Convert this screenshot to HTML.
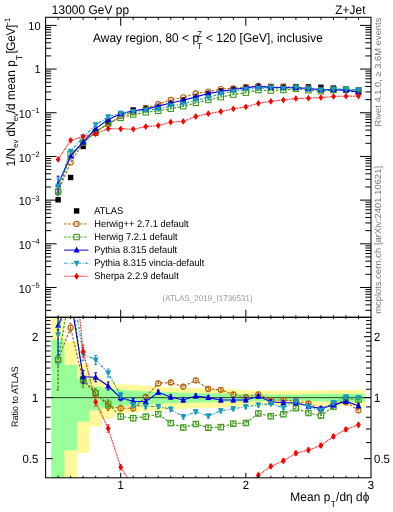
<!DOCTYPE html>
<html><head><meta charset="utf-8"><style>
html,body{margin:0;padding:0;background:#fff;}
body{width:393px;height:512px;position:relative;overflow:hidden;font-family:"Liberation Sans", sans-serif;color:#000;}
.t{position:absolute;white-space:nowrap;line-height:1;}
.rot{transform-origin:0 0;transform:rotate(-90deg);}
sup,sub{line-height:0;}
</style></head><body>
<svg width="393" height="512" viewBox="0 0 393 512" style="position:absolute;left:0;top:0;will-change:transform">
<defs><clipPath id="cm"><rect x="45.6" y="17.3" width="325.4" height="300"/></clipPath><clipPath id="cr"><rect x="45.6" y="317.3" width="325.4" height="160.5"/></clipPath></defs>
<g clip-path="url(#cr)">
<path d="M51.26 315.3 L64.37 315.3 L64.37 341.64 L76.89 341.64 L76.89 363.99 L89.4 363.99 L89.4 375.93 L101.92 375.93 L101.92 380.88 L114.43 380.88 L114.43 384.21 L126.95 384.21 L126.95 384.97 L139.46 384.97 L139.46 385.74 L151.98 385.74 L151.98 386.51 L164.49 386.51 L164.49 387.29 L177.01 387.29 L177.01 387.84 L189.52 387.84 L189.52 388.23 L202.04 388.23 L202.04 388.47 L214.55 388.47 L214.55 388.86 L227.07 388.86 L227.07 389.26 L239.58 389.26 L239.58 390.23 L252.1 390.23 L252.1 390.47 L264.61 390.47 L264.61 390.63 L277.13 390.63 L277.13 390.72 L289.64 390.72 L289.64 390.72 L302.16 390.72 L302.16 390.47 L314.67 390.47 L314.67 390.23 L327.19 390.23 L327.19 390.07 L339.7 390.07 L339.7 390.07 L352.22 390.07 L352.22 390.07 L364.73 390.07 L364.73 405.95 L352.22 405.95 L352.22 405.95 L339.7 405.95 L339.7 405.95 L327.19 405.95 L327.19 405.76 L314.67 405.76 L314.67 405.47 L302.16 405.47 L302.16 405.18 L289.64 405.18 L289.64 405.18 L277.13 405.18 L277.13 405.27 L264.61 405.27 L264.61 405.47 L252.1 405.47 L252.1 405.76 L239.58 405.76 L239.58 406.92 L227.07 406.92 L227.07 407.41 L214.55 407.41 L214.55 407.9 L202.04 407.9 L202.04 408.2 L189.52 408.2 L189.52 408.7 L177.01 408.7 L177.01 409.4 L164.49 409.4 L164.49 410.41 L151.98 410.41 L151.98 411.43 L139.46 411.43 L139.46 412.47 L126.95 412.47 L126.95 413.52 L114.43 413.52 L114.43 418.39 L101.92 418.39 L101.92 426.55 L89.4 426.55 L89.4 452.85 L76.89 452.85 L76.89 479.8 L64.37 479.8 L64.37 479.8 L51.26 479.8Z" fill="#fff999"/>
<path d="M51.26 339.8 L64.37 339.8 L64.37 364.96 L76.89 364.96 L76.89 378.72 L89.4 378.72 L89.4 386.51 L101.92 386.51 L101.92 388.31 L114.43 388.31 L114.43 389.66 L126.95 389.66 L126.95 390.47 L139.46 390.47 L139.46 391.29 L151.98 391.29 L151.98 391.86 L164.49 391.86 L164.49 392.36 L177.01 392.36 L177.01 392.86 L189.52 392.86 L189.52 393.11 L202.04 393.11 L202.04 393.36 L214.55 393.36 L214.55 393.52 L227.07 393.52 L227.07 393.78 L239.58 393.78 L239.58 394.03 L252.1 394.03 L252.1 394.37 L264.61 394.37 L264.61 394.54 L277.13 394.54 L277.13 394.62 L289.64 394.62 L289.64 394.62 L302.16 394.62 L302.16 394.37 L314.67 394.37 L314.67 394.03 L327.19 394.03 L327.19 393.78 L339.7 393.78 L339.7 393.78 L352.22 393.78 L352.22 393.78 L364.73 393.78 L364.73 401.7 L352.22 401.7 L352.22 401.7 L339.7 401.7 L339.7 401.7 L327.19 401.7 L327.19 401.43 L314.67 401.43 L314.67 401.06 L302.16 401.06 L302.16 400.78 L289.64 400.78 L289.64 400.78 L277.13 400.78 L277.13 400.88 L264.61 400.88 L264.61 401.06 L252.1 401.06 L252.1 401.43 L239.58 401.43 L239.58 401.7 L227.07 401.7 L227.07 401.98 L214.55 401.98 L214.55 402.16 L202.04 402.16 L202.04 402.44 L189.52 402.44 L189.52 402.72 L177.01 402.72 L177.01 403.28 L164.49 403.28 L164.49 403.85 L151.98 403.85 L151.98 404.51 L139.46 404.51 L139.46 405.47 L126.95 405.47 L126.95 406.43 L114.43 406.43 L114.43 408.1 L101.92 408.1 L101.92 410.41 L89.4 410.41 L89.4 421.8 L76.89 421.8 L76.89 450.25 L64.37 450.25 L64.37 479.8 L51.26 479.8Z" fill="#99ff99"/>
<line x1="45.6" y1="397.65" x2="371" y2="397.65" stroke="#000" stroke-opacity="0.72" stroke-width="1"/>
<path d="M58.11 359.6 L70.63 327.7 L83.14 381 L95.66 393 L108.18 406.5 L120.69 408.2 L133.21 408.3 L145.72 397 L158.24 383.4 L170.75 382.5 L183.27 386.6 L195.78 380.3 L208.29 389 L220.81 389.8 L233.33 394.5 L245.84 397.2 L258.36 394.3 L270.87 400 L283.38 400 L295.9 401 L308.42 403.5 L320.93 409 L333.45 403.5 L345.96 402.3 L358.48 410.3" fill="none" stroke="#b5600f" stroke-width="1.15" stroke-dasharray="2.4,1.6"/>
<path d="M58.11 329.6V389.6 M56.61 329.6h3 M56.61 389.6h3" fill="none" stroke="#b5600f" stroke-width="1" stroke-dasharray="2.4,1.6"/>
<path d="M70.63 323.2V332.2 M69.13 323.2h3 M69.13 332.2h3" fill="none" stroke="#b5600f" stroke-width="1" stroke-dasharray="2.4,1.6"/>
<path d="M83.14 374.6V387.4 M81.64 374.6h3 M81.64 387.4h3" fill="none" stroke="#b5600f" stroke-width="1" stroke-dasharray="2.4,1.6"/>
<path d="M95.66 388.5V397.5 M94.16 388.5h3 M94.16 397.5h3" fill="none" stroke="#b5600f" stroke-width="1" stroke-dasharray="2.4,1.6"/>
<path d="M108.18 402.5V410.5 M106.68 402.5h3 M106.68 410.5h3" fill="none" stroke="#b5600f" stroke-width="1" stroke-dasharray="2.4,1.6"/>
<path d="M120.69 405.2V411.2 M119.19 405.2h3 M119.19 411.2h3" fill="none" stroke="#b5600f" stroke-width="1" stroke-dasharray="2.4,1.6"/>
<path d="M133.21 405.7V410.9 M131.71 405.7h3 M131.71 410.9h3" fill="none" stroke="#b5600f" stroke-width="1" stroke-dasharray="2.4,1.6"/>
<path d="M145.72 394.6V399.4 M144.22 394.6h3 M144.22 399.4h3" fill="none" stroke="#b5600f" stroke-width="1" stroke-dasharray="2.4,1.6"/>
<path d="M158.24 381.2V385.6 M156.74 381.2h3 M156.74 385.6h3" fill="none" stroke="#b5600f" stroke-width="1" stroke-dasharray="2.4,1.6"/>
<path d="M170.75 380.3V384.7 M169.25 380.3h3 M169.25 384.7h3" fill="none" stroke="#b5600f" stroke-width="1" stroke-dasharray="2.4,1.6"/>
<path d="M183.27 384.4V388.8 M181.77 384.4h3 M181.77 388.8h3" fill="none" stroke="#b5600f" stroke-width="1" stroke-dasharray="2.4,1.6"/>
<path d="M195.78 378.3V382.3 M194.28 378.3h3 M194.28 382.3h3" fill="none" stroke="#b5600f" stroke-width="1" stroke-dasharray="2.4,1.6"/>
<path d="M208.29 387V391 M206.79 387h3 M206.79 391h3" fill="none" stroke="#b5600f" stroke-width="1" stroke-dasharray="2.4,1.6"/>
<path d="M220.81 387.8V391.8 M219.31 387.8h3 M219.31 391.8h3" fill="none" stroke="#b5600f" stroke-width="1" stroke-dasharray="2.4,1.6"/>
<path d="M233.33 392.5V396.5 M231.83 392.5h3 M231.83 396.5h3" fill="none" stroke="#b5600f" stroke-width="1" stroke-dasharray="2.4,1.6"/>
<path d="M245.84 395.2V399.2 M244.34 395.2h3 M244.34 399.2h3" fill="none" stroke="#b5600f" stroke-width="1" stroke-dasharray="2.4,1.6"/>
<path d="M258.36 392.3V396.3 M256.86 392.3h3 M256.86 396.3h3" fill="none" stroke="#b5600f" stroke-width="1" stroke-dasharray="2.4,1.6"/>
<path d="M270.87 398V402 M269.37 398h3 M269.37 402h3" fill="none" stroke="#b5600f" stroke-width="1" stroke-dasharray="2.4,1.6"/>
<path d="M283.38 398V402 M281.88 398h3 M281.88 402h3" fill="none" stroke="#b5600f" stroke-width="1" stroke-dasharray="2.4,1.6"/>
<path d="M295.9 399V403 M294.4 399h3 M294.4 403h3" fill="none" stroke="#b5600f" stroke-width="1" stroke-dasharray="2.4,1.6"/>
<path d="M308.42 401.5V405.5 M306.92 401.5h3 M306.92 405.5h3" fill="none" stroke="#b5600f" stroke-width="1" stroke-dasharray="2.4,1.6"/>
<path d="M320.93 407V411 M319.43 407h3 M319.43 411h3" fill="none" stroke="#b5600f" stroke-width="1" stroke-dasharray="2.4,1.6"/>
<path d="M333.45 401.5V405.5 M331.95 401.5h3 M331.95 405.5h3" fill="none" stroke="#b5600f" stroke-width="1" stroke-dasharray="2.4,1.6"/>
<path d="M345.96 400.3V404.3 M344.46 400.3h3 M344.46 404.3h3" fill="none" stroke="#b5600f" stroke-width="1" stroke-dasharray="2.4,1.6"/>
<path d="M358.48 408.3V412.3 M356.98 408.3h3 M356.98 412.3h3" fill="none" stroke="#b5600f" stroke-width="1" stroke-dasharray="2.4,1.6"/>
<circle cx="58.11" cy="359.6" r="2.6" fill="none" stroke="#b5600f" stroke-width="1.1"/>
<circle cx="70.63" cy="327.7" r="2.6" fill="none" stroke="#b5600f" stroke-width="1.1"/>
<circle cx="83.14" cy="381" r="2.6" fill="none" stroke="#b5600f" stroke-width="1.1"/>
<circle cx="95.66" cy="393" r="2.6" fill="none" stroke="#b5600f" stroke-width="1.1"/>
<circle cx="108.18" cy="406.5" r="2.6" fill="none" stroke="#b5600f" stroke-width="1.1"/>
<circle cx="120.69" cy="408.2" r="2.6" fill="none" stroke="#b5600f" stroke-width="1.1"/>
<circle cx="133.21" cy="408.3" r="2.6" fill="none" stroke="#b5600f" stroke-width="1.1"/>
<circle cx="145.72" cy="397" r="2.6" fill="none" stroke="#b5600f" stroke-width="1.1"/>
<circle cx="158.24" cy="383.4" r="2.6" fill="none" stroke="#b5600f" stroke-width="1.1"/>
<circle cx="170.75" cy="382.5" r="2.6" fill="none" stroke="#b5600f" stroke-width="1.1"/>
<circle cx="183.27" cy="386.6" r="2.6" fill="none" stroke="#b5600f" stroke-width="1.1"/>
<circle cx="195.78" cy="380.3" r="2.6" fill="none" stroke="#b5600f" stroke-width="1.1"/>
<circle cx="208.29" cy="389" r="2.6" fill="none" stroke="#b5600f" stroke-width="1.1"/>
<circle cx="220.81" cy="389.8" r="2.6" fill="none" stroke="#b5600f" stroke-width="1.1"/>
<circle cx="233.33" cy="394.5" r="2.6" fill="none" stroke="#b5600f" stroke-width="1.1"/>
<circle cx="245.84" cy="397.2" r="2.6" fill="none" stroke="#b5600f" stroke-width="1.1"/>
<circle cx="258.36" cy="394.3" r="2.6" fill="none" stroke="#b5600f" stroke-width="1.1"/>
<circle cx="270.87" cy="400" r="2.6" fill="none" stroke="#b5600f" stroke-width="1.1"/>
<circle cx="283.38" cy="400" r="2.6" fill="none" stroke="#b5600f" stroke-width="1.1"/>
<circle cx="295.9" cy="401" r="2.6" fill="none" stroke="#b5600f" stroke-width="1.1"/>
<circle cx="308.42" cy="403.5" r="2.6" fill="none" stroke="#b5600f" stroke-width="1.1"/>
<circle cx="320.93" cy="409" r="2.6" fill="none" stroke="#b5600f" stroke-width="1.1"/>
<circle cx="333.45" cy="403.5" r="2.6" fill="none" stroke="#b5600f" stroke-width="1.1"/>
<circle cx="345.96" cy="402.3" r="2.6" fill="none" stroke="#b5600f" stroke-width="1.1"/>
<circle cx="358.48" cy="410.3" r="2.6" fill="none" stroke="#b5600f" stroke-width="1.1"/>
<path d="M58.11 359.9 L70.63 288.65 L83.14 379 L95.66 393.2 L108.18 403.9 L120.69 416.6 L133.21 418.1 L145.72 416.7 L158.24 414.2 L170.75 423.1 L183.27 427.5 L195.78 424 L208.29 427.7 L220.81 427.1 L233.33 423.7 L245.84 423 L258.36 413.5 L270.87 416.3 L283.38 414.3 L295.9 408.2 L308.42 413 L320.93 415.6 L333.45 406.7 L345.96 398.5 L358.48 399.6" fill="none" stroke="#3e9a18" stroke-width="1.15" stroke-dasharray="2.4,1.6"/>
<path d="M58.11 329.9V389.9 M56.61 329.9h3 M56.61 389.9h3" fill="none" stroke="#3e9a18" stroke-width="1" stroke-dasharray="2.4,1.6"/>
<path d="M83.14 372.6V385.4 M81.64 372.6h3 M81.64 385.4h3" fill="none" stroke="#3e9a18" stroke-width="1" stroke-dasharray="2.4,1.6"/>
<path d="M95.66 388.7V397.7 M94.16 388.7h3 M94.16 397.7h3" fill="none" stroke="#3e9a18" stroke-width="1" stroke-dasharray="2.4,1.6"/>
<path d="M108.18 399.9V407.9 M106.68 399.9h3 M106.68 407.9h3" fill="none" stroke="#3e9a18" stroke-width="1" stroke-dasharray="2.4,1.6"/>
<path d="M120.69 413.6V419.6 M119.19 413.6h3 M119.19 419.6h3" fill="none" stroke="#3e9a18" stroke-width="1" stroke-dasharray="2.4,1.6"/>
<path d="M133.21 415.5V420.7 M131.71 415.5h3 M131.71 420.7h3" fill="none" stroke="#3e9a18" stroke-width="1" stroke-dasharray="2.4,1.6"/>
<path d="M145.72 414.3V419.1 M144.22 414.3h3 M144.22 419.1h3" fill="none" stroke="#3e9a18" stroke-width="1" stroke-dasharray="2.4,1.6"/>
<path d="M158.24 412V416.4 M156.74 412h3 M156.74 416.4h3" fill="none" stroke="#3e9a18" stroke-width="1" stroke-dasharray="2.4,1.6"/>
<path d="M170.75 420.9V425.3 M169.25 420.9h3 M169.25 425.3h3" fill="none" stroke="#3e9a18" stroke-width="1" stroke-dasharray="2.4,1.6"/>
<path d="M183.27 425.3V429.7 M181.77 425.3h3 M181.77 429.7h3" fill="none" stroke="#3e9a18" stroke-width="1" stroke-dasharray="2.4,1.6"/>
<path d="M195.78 422V426 M194.28 422h3 M194.28 426h3" fill="none" stroke="#3e9a18" stroke-width="1" stroke-dasharray="2.4,1.6"/>
<path d="M208.29 425.7V429.7 M206.79 425.7h3 M206.79 429.7h3" fill="none" stroke="#3e9a18" stroke-width="1" stroke-dasharray="2.4,1.6"/>
<path d="M220.81 425.1V429.1 M219.31 425.1h3 M219.31 429.1h3" fill="none" stroke="#3e9a18" stroke-width="1" stroke-dasharray="2.4,1.6"/>
<path d="M233.33 421.7V425.7 M231.83 421.7h3 M231.83 425.7h3" fill="none" stroke="#3e9a18" stroke-width="1" stroke-dasharray="2.4,1.6"/>
<path d="M245.84 421V425 M244.34 421h3 M244.34 425h3" fill="none" stroke="#3e9a18" stroke-width="1" stroke-dasharray="2.4,1.6"/>
<path d="M258.36 411.5V415.5 M256.86 411.5h3 M256.86 415.5h3" fill="none" stroke="#3e9a18" stroke-width="1" stroke-dasharray="2.4,1.6"/>
<path d="M270.87 414.3V418.3 M269.37 414.3h3 M269.37 418.3h3" fill="none" stroke="#3e9a18" stroke-width="1" stroke-dasharray="2.4,1.6"/>
<path d="M283.38 412.3V416.3 M281.88 412.3h3 M281.88 416.3h3" fill="none" stroke="#3e9a18" stroke-width="1" stroke-dasharray="2.4,1.6"/>
<path d="M295.9 406.2V410.2 M294.4 406.2h3 M294.4 410.2h3" fill="none" stroke="#3e9a18" stroke-width="1" stroke-dasharray="2.4,1.6"/>
<path d="M308.42 411V415 M306.92 411h3 M306.92 415h3" fill="none" stroke="#3e9a18" stroke-width="1" stroke-dasharray="2.4,1.6"/>
<path d="M320.93 413.6V417.6 M319.43 413.6h3 M319.43 417.6h3" fill="none" stroke="#3e9a18" stroke-width="1" stroke-dasharray="2.4,1.6"/>
<path d="M333.45 404.7V408.7 M331.95 404.7h3 M331.95 408.7h3" fill="none" stroke="#3e9a18" stroke-width="1" stroke-dasharray="2.4,1.6"/>
<path d="M345.96 396.5V400.5 M344.46 396.5h3 M344.46 400.5h3" fill="none" stroke="#3e9a18" stroke-width="1" stroke-dasharray="2.4,1.6"/>
<path d="M358.48 397.6V401.6 M356.98 397.6h3 M356.98 401.6h3" fill="none" stroke="#3e9a18" stroke-width="1" stroke-dasharray="2.4,1.6"/>
<rect x="55.41" y="357.2" width="5.4" height="5.4" fill="none" stroke="#3e9a18" stroke-width="1.1"/>
<rect x="80.44" y="376.3" width="5.4" height="5.4" fill="none" stroke="#3e9a18" stroke-width="1.1"/>
<rect x="92.96" y="390.5" width="5.4" height="5.4" fill="none" stroke="#3e9a18" stroke-width="1.1"/>
<rect x="105.48" y="401.2" width="5.4" height="5.4" fill="none" stroke="#3e9a18" stroke-width="1.1"/>
<rect x="117.99" y="413.9" width="5.4" height="5.4" fill="none" stroke="#3e9a18" stroke-width="1.1"/>
<rect x="130.51" y="415.4" width="5.4" height="5.4" fill="none" stroke="#3e9a18" stroke-width="1.1"/>
<rect x="143.02" y="414" width="5.4" height="5.4" fill="none" stroke="#3e9a18" stroke-width="1.1"/>
<rect x="155.54" y="411.5" width="5.4" height="5.4" fill="none" stroke="#3e9a18" stroke-width="1.1"/>
<rect x="168.05" y="420.4" width="5.4" height="5.4" fill="none" stroke="#3e9a18" stroke-width="1.1"/>
<rect x="180.57" y="424.8" width="5.4" height="5.4" fill="none" stroke="#3e9a18" stroke-width="1.1"/>
<rect x="193.08" y="421.3" width="5.4" height="5.4" fill="none" stroke="#3e9a18" stroke-width="1.1"/>
<rect x="205.59" y="425" width="5.4" height="5.4" fill="none" stroke="#3e9a18" stroke-width="1.1"/>
<rect x="218.11" y="424.4" width="5.4" height="5.4" fill="none" stroke="#3e9a18" stroke-width="1.1"/>
<rect x="230.63" y="421" width="5.4" height="5.4" fill="none" stroke="#3e9a18" stroke-width="1.1"/>
<rect x="243.14" y="420.3" width="5.4" height="5.4" fill="none" stroke="#3e9a18" stroke-width="1.1"/>
<rect x="255.66" y="410.8" width="5.4" height="5.4" fill="none" stroke="#3e9a18" stroke-width="1.1"/>
<rect x="268.17" y="413.6" width="5.4" height="5.4" fill="none" stroke="#3e9a18" stroke-width="1.1"/>
<rect x="280.69" y="411.6" width="5.4" height="5.4" fill="none" stroke="#3e9a18" stroke-width="1.1"/>
<rect x="293.2" y="405.5" width="5.4" height="5.4" fill="none" stroke="#3e9a18" stroke-width="1.1"/>
<rect x="305.72" y="410.3" width="5.4" height="5.4" fill="none" stroke="#3e9a18" stroke-width="1.1"/>
<rect x="318.23" y="412.9" width="5.4" height="5.4" fill="none" stroke="#3e9a18" stroke-width="1.1"/>
<rect x="330.75" y="404" width="5.4" height="5.4" fill="none" stroke="#3e9a18" stroke-width="1.1"/>
<rect x="343.26" y="395.8" width="5.4" height="5.4" fill="none" stroke="#3e9a18" stroke-width="1.1"/>
<rect x="355.78" y="396.9" width="5.4" height="5.4" fill="none" stroke="#3e9a18" stroke-width="1.1"/>
<path d="M58.11 325.2 L70.63 297.93 L83.14 376.8 L95.66 377.3 L108.18 386 L120.69 397.8 L133.21 401.2 L145.72 401.7 L158.24 392.3 L170.75 397 L183.27 400 L195.78 396 L208.29 397.6 L220.81 400 L233.33 400 L245.84 400 L258.36 396.3 L270.87 401.7 L283.38 402.7 L295.9 402.7 L308.42 406.2 L320.93 408.6 L333.45 404.9 L345.96 401.4 L358.48 405.8" fill="none" stroke="#0000e6" stroke-width="1.15"/>
<path d="M58.11 295.2V355.2 M56.61 295.2h3 M56.61 355.2h3" fill="none" stroke="#0000e6" stroke-width="1"/>
<path d="M83.14 370.4V383.2 M81.64 370.4h3 M81.64 383.2h3" fill="none" stroke="#0000e6" stroke-width="1"/>
<path d="M95.66 372.8V381.8 M94.16 372.8h3 M94.16 381.8h3" fill="none" stroke="#0000e6" stroke-width="1"/>
<path d="M108.18 382V390 M106.68 382h3 M106.68 390h3" fill="none" stroke="#0000e6" stroke-width="1"/>
<path d="M120.69 394.8V400.8 M119.19 394.8h3 M119.19 400.8h3" fill="none" stroke="#0000e6" stroke-width="1"/>
<path d="M133.21 398.6V403.8 M131.71 398.6h3 M131.71 403.8h3" fill="none" stroke="#0000e6" stroke-width="1"/>
<path d="M145.72 399.3V404.1 M144.22 399.3h3 M144.22 404.1h3" fill="none" stroke="#0000e6" stroke-width="1"/>
<path d="M158.24 390.1V394.5 M156.74 390.1h3 M156.74 394.5h3" fill="none" stroke="#0000e6" stroke-width="1"/>
<path d="M170.75 394.8V399.2 M169.25 394.8h3 M169.25 399.2h3" fill="none" stroke="#0000e6" stroke-width="1"/>
<path d="M183.27 397.8V402.2 M181.77 397.8h3 M181.77 402.2h3" fill="none" stroke="#0000e6" stroke-width="1"/>
<path d="M195.78 394V398 M194.28 394h3 M194.28 398h3" fill="none" stroke="#0000e6" stroke-width="1"/>
<path d="M208.29 395.6V399.6 M206.79 395.6h3 M206.79 399.6h3" fill="none" stroke="#0000e6" stroke-width="1"/>
<path d="M220.81 398V402 M219.31 398h3 M219.31 402h3" fill="none" stroke="#0000e6" stroke-width="1"/>
<path d="M233.33 398V402 M231.83 398h3 M231.83 402h3" fill="none" stroke="#0000e6" stroke-width="1"/>
<path d="M245.84 398V402 M244.34 398h3 M244.34 402h3" fill="none" stroke="#0000e6" stroke-width="1"/>
<path d="M258.36 394.3V398.3 M256.86 394.3h3 M256.86 398.3h3" fill="none" stroke="#0000e6" stroke-width="1"/>
<path d="M270.87 399.7V403.7 M269.37 399.7h3 M269.37 403.7h3" fill="none" stroke="#0000e6" stroke-width="1"/>
<path d="M283.38 400.7V404.7 M281.88 400.7h3 M281.88 404.7h3" fill="none" stroke="#0000e6" stroke-width="1"/>
<path d="M295.9 400.7V404.7 M294.4 400.7h3 M294.4 404.7h3" fill="none" stroke="#0000e6" stroke-width="1"/>
<path d="M308.42 404.2V408.2 M306.92 404.2h3 M306.92 408.2h3" fill="none" stroke="#0000e6" stroke-width="1"/>
<path d="M320.93 406.6V410.6 M319.43 406.6h3 M319.43 410.6h3" fill="none" stroke="#0000e6" stroke-width="1"/>
<path d="M333.45 402.9V406.9 M331.95 402.9h3 M331.95 406.9h3" fill="none" stroke="#0000e6" stroke-width="1"/>
<path d="M345.96 399.4V403.4 M344.46 399.4h3 M344.46 403.4h3" fill="none" stroke="#0000e6" stroke-width="1"/>
<path d="M358.48 403.8V407.8 M356.98 403.8h3 M356.98 407.8h3" fill="none" stroke="#0000e6" stroke-width="1"/>
<path d="M58.11 321.7L61.11 327.7L55.11 327.7Z" fill="#0000e6"/>
<path d="M83.14 373.3L86.14 379.3L80.14 379.3Z" fill="#0000e6"/>
<path d="M95.66 373.8L98.66 379.8L92.66 379.8Z" fill="#0000e6"/>
<path d="M108.18 382.5L111.18 388.5L105.18 388.5Z" fill="#0000e6"/>
<path d="M120.69 394.3L123.69 400.3L117.69 400.3Z" fill="#0000e6"/>
<path d="M133.21 397.7L136.21 403.7L130.21 403.7Z" fill="#0000e6"/>
<path d="M145.72 398.2L148.72 404.2L142.72 404.2Z" fill="#0000e6"/>
<path d="M158.24 388.8L161.24 394.8L155.24 394.8Z" fill="#0000e6"/>
<path d="M170.75 393.5L173.75 399.5L167.75 399.5Z" fill="#0000e6"/>
<path d="M183.27 396.5L186.27 402.5L180.27 402.5Z" fill="#0000e6"/>
<path d="M195.78 392.5L198.78 398.5L192.78 398.5Z" fill="#0000e6"/>
<path d="M208.29 394.1L211.29 400.1L205.29 400.1Z" fill="#0000e6"/>
<path d="M220.81 396.5L223.81 402.5L217.81 402.5Z" fill="#0000e6"/>
<path d="M233.33 396.5L236.33 402.5L230.33 402.5Z" fill="#0000e6"/>
<path d="M245.84 396.5L248.84 402.5L242.84 402.5Z" fill="#0000e6"/>
<path d="M258.36 392.8L261.36 398.8L255.36 398.8Z" fill="#0000e6"/>
<path d="M270.87 398.2L273.87 404.2L267.87 404.2Z" fill="#0000e6"/>
<path d="M283.38 399.2L286.38 405.2L280.38 405.2Z" fill="#0000e6"/>
<path d="M295.9 399.2L298.9 405.2L292.9 405.2Z" fill="#0000e6"/>
<path d="M308.42 402.7L311.42 408.7L305.42 408.7Z" fill="#0000e6"/>
<path d="M320.93 405.1L323.93 411.1L317.93 411.1Z" fill="#0000e6"/>
<path d="M333.45 401.4L336.45 407.4L330.45 407.4Z" fill="#0000e6"/>
<path d="M345.96 397.9L348.96 403.9L342.96 403.9Z" fill="#0000e6"/>
<path d="M358.48 402.3L361.48 408.3L355.48 408.3Z" fill="#0000e6"/>
<path d="M58.11 334.8 L70.63 275.66 L83.14 354 L95.66 359.9 L108.18 373.1 L120.69 395.3 L133.21 405 L145.72 406.5 L158.24 406.5 L170.75 409.2 L183.27 416.8 L195.78 411.8 L208.29 416 L220.81 410.8 L233.33 408.8 L245.84 406.8 L258.36 405 L270.87 403.7 L283.38 407.8 L295.9 401.2 L308.42 406.7 L320.93 410.3 L333.45 402.8 L345.96 396.9 L358.48 397.8" fill="none" stroke="#1899c2" stroke-width="1.15" stroke-dasharray="3,1.5,1,1.5"/>
<path d="M58.11 304.8V364.8 M56.61 304.8h3 M56.61 364.8h3" fill="none" stroke="#1899c2" stroke-width="1" stroke-dasharray="3,1.5,1,1.5"/>
<path d="M83.14 347.6V360.4 M81.64 347.6h3 M81.64 360.4h3" fill="none" stroke="#1899c2" stroke-width="1" stroke-dasharray="3,1.5,1,1.5"/>
<path d="M95.66 355.4V364.4 M94.16 355.4h3 M94.16 364.4h3" fill="none" stroke="#1899c2" stroke-width="1" stroke-dasharray="3,1.5,1,1.5"/>
<path d="M108.18 369.1V377.1 M106.68 369.1h3 M106.68 377.1h3" fill="none" stroke="#1899c2" stroke-width="1" stroke-dasharray="3,1.5,1,1.5"/>
<path d="M120.69 392.3V398.3 M119.19 392.3h3 M119.19 398.3h3" fill="none" stroke="#1899c2" stroke-width="1" stroke-dasharray="3,1.5,1,1.5"/>
<path d="M133.21 402.4V407.6 M131.71 402.4h3 M131.71 407.6h3" fill="none" stroke="#1899c2" stroke-width="1" stroke-dasharray="3,1.5,1,1.5"/>
<path d="M145.72 404.1V408.9 M144.22 404.1h3 M144.22 408.9h3" fill="none" stroke="#1899c2" stroke-width="1" stroke-dasharray="3,1.5,1,1.5"/>
<path d="M158.24 404.3V408.7 M156.74 404.3h3 M156.74 408.7h3" fill="none" stroke="#1899c2" stroke-width="1" stroke-dasharray="3,1.5,1,1.5"/>
<path d="M170.75 407V411.4 M169.25 407h3 M169.25 411.4h3" fill="none" stroke="#1899c2" stroke-width="1" stroke-dasharray="3,1.5,1,1.5"/>
<path d="M183.27 414.6V419 M181.77 414.6h3 M181.77 419h3" fill="none" stroke="#1899c2" stroke-width="1" stroke-dasharray="3,1.5,1,1.5"/>
<path d="M195.78 409.8V413.8 M194.28 409.8h3 M194.28 413.8h3" fill="none" stroke="#1899c2" stroke-width="1" stroke-dasharray="3,1.5,1,1.5"/>
<path d="M208.29 414V418 M206.79 414h3 M206.79 418h3" fill="none" stroke="#1899c2" stroke-width="1" stroke-dasharray="3,1.5,1,1.5"/>
<path d="M220.81 408.8V412.8 M219.31 408.8h3 M219.31 412.8h3" fill="none" stroke="#1899c2" stroke-width="1" stroke-dasharray="3,1.5,1,1.5"/>
<path d="M233.33 406.8V410.8 M231.83 406.8h3 M231.83 410.8h3" fill="none" stroke="#1899c2" stroke-width="1" stroke-dasharray="3,1.5,1,1.5"/>
<path d="M245.84 404.8V408.8 M244.34 404.8h3 M244.34 408.8h3" fill="none" stroke="#1899c2" stroke-width="1" stroke-dasharray="3,1.5,1,1.5"/>
<path d="M258.36 403V407 M256.86 403h3 M256.86 407h3" fill="none" stroke="#1899c2" stroke-width="1" stroke-dasharray="3,1.5,1,1.5"/>
<path d="M270.87 401.7V405.7 M269.37 401.7h3 M269.37 405.7h3" fill="none" stroke="#1899c2" stroke-width="1" stroke-dasharray="3,1.5,1,1.5"/>
<path d="M283.38 405.8V409.8 M281.88 405.8h3 M281.88 409.8h3" fill="none" stroke="#1899c2" stroke-width="1" stroke-dasharray="3,1.5,1,1.5"/>
<path d="M295.9 399.2V403.2 M294.4 399.2h3 M294.4 403.2h3" fill="none" stroke="#1899c2" stroke-width="1" stroke-dasharray="3,1.5,1,1.5"/>
<path d="M308.42 404.7V408.7 M306.92 404.7h3 M306.92 408.7h3" fill="none" stroke="#1899c2" stroke-width="1" stroke-dasharray="3,1.5,1,1.5"/>
<path d="M320.93 408.3V412.3 M319.43 408.3h3 M319.43 412.3h3" fill="none" stroke="#1899c2" stroke-width="1" stroke-dasharray="3,1.5,1,1.5"/>
<path d="M333.45 400.8V404.8 M331.95 400.8h3 M331.95 404.8h3" fill="none" stroke="#1899c2" stroke-width="1" stroke-dasharray="3,1.5,1,1.5"/>
<path d="M345.96 394.9V398.9 M344.46 394.9h3 M344.46 398.9h3" fill="none" stroke="#1899c2" stroke-width="1" stroke-dasharray="3,1.5,1,1.5"/>
<path d="M358.48 395.8V399.8 M356.98 395.8h3 M356.98 399.8h3" fill="none" stroke="#1899c2" stroke-width="1" stroke-dasharray="3,1.5,1,1.5"/>
<path d="M58.11 338.3L61.11 332.3L55.11 332.3Z" fill="#1899c2"/>
<path d="M83.14 357.5L86.14 351.5L80.14 351.5Z" fill="#1899c2"/>
<path d="M95.66 363.4L98.66 357.4L92.66 357.4Z" fill="#1899c2"/>
<path d="M108.18 376.6L111.18 370.6L105.18 370.6Z" fill="#1899c2"/>
<path d="M120.69 398.8L123.69 392.8L117.69 392.8Z" fill="#1899c2"/>
<path d="M133.21 408.5L136.21 402.5L130.21 402.5Z" fill="#1899c2"/>
<path d="M145.72 410L148.72 404L142.72 404Z" fill="#1899c2"/>
<path d="M158.24 410L161.24 404L155.24 404Z" fill="#1899c2"/>
<path d="M170.75 412.7L173.75 406.7L167.75 406.7Z" fill="#1899c2"/>
<path d="M183.27 420.3L186.27 414.3L180.27 414.3Z" fill="#1899c2"/>
<path d="M195.78 415.3L198.78 409.3L192.78 409.3Z" fill="#1899c2"/>
<path d="M208.29 419.5L211.29 413.5L205.29 413.5Z" fill="#1899c2"/>
<path d="M220.81 414.3L223.81 408.3L217.81 408.3Z" fill="#1899c2"/>
<path d="M233.33 412.3L236.33 406.3L230.33 406.3Z" fill="#1899c2"/>
<path d="M245.84 410.3L248.84 404.3L242.84 404.3Z" fill="#1899c2"/>
<path d="M258.36 408.5L261.36 402.5L255.36 402.5Z" fill="#1899c2"/>
<path d="M270.87 407.2L273.87 401.2L267.87 401.2Z" fill="#1899c2"/>
<path d="M283.38 411.3L286.38 405.3L280.38 405.3Z" fill="#1899c2"/>
<path d="M295.9 404.7L298.9 398.7L292.9 398.7Z" fill="#1899c2"/>
<path d="M308.42 410.2L311.42 404.2L305.42 404.2Z" fill="#1899c2"/>
<path d="M320.93 413.8L323.93 407.8L317.93 407.8Z" fill="#1899c2"/>
<path d="M333.45 406.3L336.45 400.3L330.45 400.3Z" fill="#1899c2"/>
<path d="M345.96 400.4L348.96 394.4L342.96 394.4Z" fill="#1899c2"/>
<path d="M358.48 401.3L361.48 395.3L355.48 395.3Z" fill="#1899c2"/>
<path d="M58.11 210.26 L70.63 225.11 L83.14 351.5 L95.66 401.9 L108.18 428.5 L120.69 467.2 L133.21 486.7 L145.72 482.99 L158.24 482.53 L170.75 485.31 L183.27 497.84 L195.78 487.17 L208.29 491.34 L220.81 493.66 L233.33 489.49 L245.84 488.56 L258.36 475.2 L270.87 466.3 L283.38 460.8 L295.9 453.2 L308.42 450.1 L320.93 445.5 L333.45 436.4 L345.96 429.4 L358.48 424.8" fill="none" stroke="#ff0000" stroke-width="1.15" stroke-dasharray="0.9,0.7"/>
<path d="M83.14 345.1V357.9 M81.64 345.1h3 M81.64 357.9h3" fill="none" stroke="#ff0000" stroke-width="1" stroke-dasharray="0.9,0.7"/>
<path d="M95.66 397.4V406.4 M94.16 397.4h3 M94.16 406.4h3" fill="none" stroke="#ff0000" stroke-width="1" stroke-dasharray="0.9,0.7"/>
<path d="M108.18 424.5V432.5 M106.68 424.5h3 M106.68 432.5h3" fill="none" stroke="#ff0000" stroke-width="1" stroke-dasharray="0.9,0.7"/>
<path d="M120.69 464.2V470.2 M119.19 464.2h3 M119.19 470.2h3" fill="none" stroke="#ff0000" stroke-width="1" stroke-dasharray="0.9,0.7"/>
<path d="M258.36 473.2V477.2 M256.86 473.2h3 M256.86 477.2h3" fill="none" stroke="#ff0000" stroke-width="1" stroke-dasharray="0.9,0.7"/>
<path d="M270.87 464.3V468.3 M269.37 464.3h3 M269.37 468.3h3" fill="none" stroke="#ff0000" stroke-width="1" stroke-dasharray="0.9,0.7"/>
<path d="M283.38 458.8V462.8 M281.88 458.8h3 M281.88 462.8h3" fill="none" stroke="#ff0000" stroke-width="1" stroke-dasharray="0.9,0.7"/>
<path d="M295.9 451.2V455.2 M294.4 451.2h3 M294.4 455.2h3" fill="none" stroke="#ff0000" stroke-width="1" stroke-dasharray="0.9,0.7"/>
<path d="M308.42 448.1V452.1 M306.92 448.1h3 M306.92 452.1h3" fill="none" stroke="#ff0000" stroke-width="1" stroke-dasharray="0.9,0.7"/>
<path d="M320.93 443.5V447.5 M319.43 443.5h3 M319.43 447.5h3" fill="none" stroke="#ff0000" stroke-width="1" stroke-dasharray="0.9,0.7"/>
<path d="M333.45 434.4V438.4 M331.95 434.4h3 M331.95 438.4h3" fill="none" stroke="#ff0000" stroke-width="1" stroke-dasharray="0.9,0.7"/>
<path d="M345.96 427.4V431.4 M344.46 427.4h3 M344.46 431.4h3" fill="none" stroke="#ff0000" stroke-width="1" stroke-dasharray="0.9,0.7"/>
<path d="M358.48 422.8V426.8 M356.98 422.8h3 M356.98 426.8h3" fill="none" stroke="#ff0000" stroke-width="1" stroke-dasharray="0.9,0.7"/>
<path d="M83.14 348.1L85.55 351.5L83.14 354.9L80.74 351.5Z" fill="#ff0000"/>
<path d="M95.66 398.5L98.06 401.9L95.66 405.3L93.26 401.9Z" fill="#ff0000"/>
<path d="M108.18 425.1L110.58 428.5L108.18 431.9L105.78 428.5Z" fill="#ff0000"/>
<path d="M120.69 463.8L123.09 467.2L120.69 470.6L118.29 467.2Z" fill="#ff0000"/>
<path d="M258.36 471.8L260.75 475.2L258.36 478.6L255.96 475.2Z" fill="#ff0000"/>
<path d="M270.87 462.9L273.27 466.3L270.87 469.7L268.47 466.3Z" fill="#ff0000"/>
<path d="M283.38 457.4L285.78 460.8L283.38 464.2L280.99 460.8Z" fill="#ff0000"/>
<path d="M295.9 449.8L298.3 453.2L295.9 456.6L293.5 453.2Z" fill="#ff0000"/>
<path d="M308.42 446.7L310.81 450.1L308.42 453.5L306.02 450.1Z" fill="#ff0000"/>
<path d="M320.93 442.1L323.33 445.5L320.93 448.9L318.53 445.5Z" fill="#ff0000"/>
<path d="M333.45 433L335.85 436.4L333.45 439.8L331.05 436.4Z" fill="#ff0000"/>
<path d="M345.96 426L348.36 429.4L345.96 432.8L343.56 429.4Z" fill="#ff0000"/>
<path d="M358.48 421.4L360.88 424.8L358.48 428.2L356.08 424.8Z" fill="#ff0000"/>
</g>
<g clip-path="url(#cm)">
<rect x="55.41" y="197.1" width="5.4" height="5.4" fill="#000"/>
<rect x="67.93" y="174.8" width="5.4" height="5.4" fill="#000"/>
<rect x="80.44" y="143.8" width="5.4" height="5.4" fill="#000"/>
<rect x="92.96" y="130.3" width="5.4" height="5.4" fill="#000"/>
<rect x="105.48" y="119.3" width="5.4" height="5.4" fill="#000"/>
<rect x="117.99" y="111.1" width="5.4" height="5.4" fill="#000"/>
<rect x="130.51" y="107.3" width="5.4" height="5.4" fill="#000"/>
<rect x="143.02" y="105.5" width="5.4" height="5.4" fill="#000"/>
<rect x="155.54" y="104.6" width="5.4" height="5.4" fill="#000"/>
<rect x="168.05" y="100.5" width="5.4" height="5.4" fill="#000"/>
<rect x="180.57" y="97.1" width="5.4" height="5.4" fill="#000"/>
<rect x="193.08" y="94.5" width="5.4" height="5.4" fill="#000"/>
<rect x="205.59" y="90.8" width="5.4" height="5.4" fill="#000"/>
<rect x="218.11" y="88.1" width="5.4" height="5.4" fill="#000"/>
<rect x="230.63" y="86.3" width="5.4" height="5.4" fill="#000"/>
<rect x="243.14" y="84.5" width="5.4" height="5.4" fill="#000"/>
<rect x="255.66" y="83.9" width="5.4" height="5.4" fill="#000"/>
<rect x="268.17" y="83.8" width="5.4" height="5.4" fill="#000"/>
<rect x="280.69" y="83.7" width="5.4" height="5.4" fill="#000"/>
<rect x="293.2" y="83.9" width="5.4" height="5.4" fill="#000"/>
<rect x="305.72" y="84.2" width="5.4" height="5.4" fill="#000"/>
<rect x="318.23" y="84.6" width="5.4" height="5.4" fill="#000"/>
<rect x="330.75" y="85.4" width="5.4" height="5.4" fill="#000"/>
<rect x="343.26" y="86.6" width="5.4" height="5.4" fill="#000"/>
<rect x="355.78" y="87.5" width="5.4" height="5.4" fill="#000"/>
<path d="M58.11 191.6 L70.63 162.42 L83.14 142.91 L95.66 132 L108.18 123.91 L120.69 116.07 L133.21 112.3 L145.72 108.06 L158.24 104.23 L170.75 99.93 L183.27 97.42 L195.78 93.46 L208.29 91.64 L220.81 89.11 L233.33 88.32 L245.84 87.1 L258.36 85.88 L270.87 87.01 L283.38 86.91 L295.9 87.32 L308.42 88.16 L320.93 89.75 L333.45 89.36 L345.96 90.3 L358.48 92.93" fill="none" stroke="#b5600f" stroke-width="1.15" stroke-dasharray="2.4,1.6"/>
<path d="M58.11 187.6V195.6 M56.61 187.6h3 M56.61 195.6h3" fill="none" stroke="#b5600f" stroke-width="1" stroke-dasharray="2.4,1.6"/>
<circle cx="58.11" cy="191.6" r="2.6" fill="none" stroke="#b5600f" stroke-width="1.1"/>
<circle cx="70.63" cy="162.42" r="2.6" fill="none" stroke="#b5600f" stroke-width="1.1"/>
<circle cx="83.14" cy="142.91" r="2.6" fill="none" stroke="#b5600f" stroke-width="1.1"/>
<circle cx="95.66" cy="132" r="2.6" fill="none" stroke="#b5600f" stroke-width="1.1"/>
<circle cx="108.18" cy="123.91" r="2.6" fill="none" stroke="#b5600f" stroke-width="1.1"/>
<circle cx="120.69" cy="116.07" r="2.6" fill="none" stroke="#b5600f" stroke-width="1.1"/>
<circle cx="133.21" cy="112.3" r="2.6" fill="none" stroke="#b5600f" stroke-width="1.1"/>
<circle cx="145.72" cy="108.06" r="2.6" fill="none" stroke="#b5600f" stroke-width="1.1"/>
<circle cx="158.24" cy="104.23" r="2.6" fill="none" stroke="#b5600f" stroke-width="1.1"/>
<circle cx="170.75" cy="99.93" r="2.6" fill="none" stroke="#b5600f" stroke-width="1.1"/>
<circle cx="183.27" cy="97.42" r="2.6" fill="none" stroke="#b5600f" stroke-width="1.1"/>
<circle cx="195.78" cy="93.46" r="2.6" fill="none" stroke="#b5600f" stroke-width="1.1"/>
<circle cx="208.29" cy="91.64" r="2.6" fill="none" stroke="#b5600f" stroke-width="1.1"/>
<circle cx="220.81" cy="89.11" r="2.6" fill="none" stroke="#b5600f" stroke-width="1.1"/>
<circle cx="233.33" cy="88.32" r="2.6" fill="none" stroke="#b5600f" stroke-width="1.1"/>
<circle cx="245.84" cy="87.1" r="2.6" fill="none" stroke="#b5600f" stroke-width="1.1"/>
<circle cx="258.36" cy="85.88" r="2.6" fill="none" stroke="#b5600f" stroke-width="1.1"/>
<circle cx="270.87" cy="87.01" r="2.6" fill="none" stroke="#b5600f" stroke-width="1.1"/>
<circle cx="283.38" cy="86.91" r="2.6" fill="none" stroke="#b5600f" stroke-width="1.1"/>
<circle cx="295.9" cy="87.32" r="2.6" fill="none" stroke="#b5600f" stroke-width="1.1"/>
<circle cx="308.42" cy="88.16" r="2.6" fill="none" stroke="#b5600f" stroke-width="1.1"/>
<circle cx="320.93" cy="89.75" r="2.6" fill="none" stroke="#b5600f" stroke-width="1.1"/>
<circle cx="333.45" cy="89.36" r="2.6" fill="none" stroke="#b5600f" stroke-width="1.1"/>
<circle cx="345.96" cy="90.3" r="2.6" fill="none" stroke="#b5600f" stroke-width="1.1"/>
<circle cx="358.48" cy="92.93" r="2.6" fill="none" stroke="#b5600f" stroke-width="1.1"/>
<path d="M58.11 191.66 L70.63 154 L83.14 142.48 L95.66 132.04 L108.18 123.35 L120.69 117.89 L133.21 114.41 L145.72 112.31 L158.24 110.87 L170.75 108.69 L183.27 106.24 L195.78 102.88 L208.29 99.98 L220.81 97.15 L233.33 94.62 L245.84 92.67 L258.36 90.02 L270.87 90.52 L283.38 89.99 L295.9 88.87 L308.42 90.21 L320.93 91.17 L333.45 90.05 L345.96 89.48 L358.48 90.62" fill="none" stroke="#3e9a18" stroke-width="1.15" stroke-dasharray="2.4,1.6"/>
<path d="M58.11 187.66V195.66 M56.61 187.66h3 M56.61 195.66h3" fill="none" stroke="#3e9a18" stroke-width="1" stroke-dasharray="2.4,1.6"/>
<rect x="55.41" y="188.96" width="5.4" height="5.4" fill="none" stroke="#3e9a18" stroke-width="1.1"/>
<rect x="67.93" y="151.3" width="5.4" height="5.4" fill="none" stroke="#3e9a18" stroke-width="1.1"/>
<rect x="80.44" y="139.78" width="5.4" height="5.4" fill="none" stroke="#3e9a18" stroke-width="1.1"/>
<rect x="92.96" y="129.34" width="5.4" height="5.4" fill="none" stroke="#3e9a18" stroke-width="1.1"/>
<rect x="105.48" y="120.65" width="5.4" height="5.4" fill="none" stroke="#3e9a18" stroke-width="1.1"/>
<rect x="117.99" y="115.19" width="5.4" height="5.4" fill="none" stroke="#3e9a18" stroke-width="1.1"/>
<rect x="130.51" y="111.71" width="5.4" height="5.4" fill="none" stroke="#3e9a18" stroke-width="1.1"/>
<rect x="143.02" y="109.61" width="5.4" height="5.4" fill="none" stroke="#3e9a18" stroke-width="1.1"/>
<rect x="155.54" y="108.17" width="5.4" height="5.4" fill="none" stroke="#3e9a18" stroke-width="1.1"/>
<rect x="168.05" y="105.99" width="5.4" height="5.4" fill="none" stroke="#3e9a18" stroke-width="1.1"/>
<rect x="180.57" y="103.54" width="5.4" height="5.4" fill="none" stroke="#3e9a18" stroke-width="1.1"/>
<rect x="193.08" y="100.18" width="5.4" height="5.4" fill="none" stroke="#3e9a18" stroke-width="1.1"/>
<rect x="205.59" y="97.28" width="5.4" height="5.4" fill="none" stroke="#3e9a18" stroke-width="1.1"/>
<rect x="218.11" y="94.45" width="5.4" height="5.4" fill="none" stroke="#3e9a18" stroke-width="1.1"/>
<rect x="230.63" y="91.92" width="5.4" height="5.4" fill="none" stroke="#3e9a18" stroke-width="1.1"/>
<rect x="243.14" y="89.97" width="5.4" height="5.4" fill="none" stroke="#3e9a18" stroke-width="1.1"/>
<rect x="255.66" y="87.32" width="5.4" height="5.4" fill="none" stroke="#3e9a18" stroke-width="1.1"/>
<rect x="268.17" y="87.82" width="5.4" height="5.4" fill="none" stroke="#3e9a18" stroke-width="1.1"/>
<rect x="280.69" y="87.29" width="5.4" height="5.4" fill="none" stroke="#3e9a18" stroke-width="1.1"/>
<rect x="293.2" y="86.17" width="5.4" height="5.4" fill="none" stroke="#3e9a18" stroke-width="1.1"/>
<rect x="305.72" y="87.51" width="5.4" height="5.4" fill="none" stroke="#3e9a18" stroke-width="1.1"/>
<rect x="318.23" y="88.47" width="5.4" height="5.4" fill="none" stroke="#3e9a18" stroke-width="1.1"/>
<rect x="330.75" y="87.35" width="5.4" height="5.4" fill="none" stroke="#3e9a18" stroke-width="1.1"/>
<rect x="343.26" y="86.78" width="5.4" height="5.4" fill="none" stroke="#3e9a18" stroke-width="1.1"/>
<rect x="355.78" y="87.92" width="5.4" height="5.4" fill="none" stroke="#3e9a18" stroke-width="1.1"/>
<path d="M58.11 184.18 L70.63 156 L83.14 142 L95.66 128.61 L108.18 119.49 L120.69 113.83 L133.21 110.77 L145.72 109.07 L158.24 106.15 L170.75 103.06 L183.27 100.31 L195.78 96.84 L208.29 93.49 L220.81 91.31 L233.33 89.51 L245.84 87.71 L258.36 86.31 L270.87 87.37 L283.38 87.49 L295.9 87.69 L308.42 88.74 L320.93 89.66 L333.45 89.66 L345.96 90.11 L358.48 91.96" fill="none" stroke="#0000e6" stroke-width="1.15"/>
<path d="M58.11 176.18V192.18 M56.61 176.18h3 M56.61 192.18h3" fill="none" stroke="#0000e6" stroke-width="1"/>
<path d="M58.11 180.68L61.11 186.68L55.11 186.68Z" fill="#0000e6"/>
<path d="M70.63 152.5L73.63 158.5L67.63 158.5Z" fill="#0000e6"/>
<path d="M83.14 138.5L86.14 144.5L80.14 144.5Z" fill="#0000e6"/>
<path d="M95.66 125.11L98.66 131.11L92.66 131.11Z" fill="#0000e6"/>
<path d="M108.18 115.99L111.18 121.99L105.18 121.99Z" fill="#0000e6"/>
<path d="M120.69 110.33L123.69 116.33L117.69 116.33Z" fill="#0000e6"/>
<path d="M133.21 107.27L136.21 113.27L130.21 113.27Z" fill="#0000e6"/>
<path d="M145.72 105.57L148.72 111.57L142.72 111.57Z" fill="#0000e6"/>
<path d="M158.24 102.65L161.24 108.65L155.24 108.65Z" fill="#0000e6"/>
<path d="M170.75 99.56L173.75 105.56L167.75 105.56Z" fill="#0000e6"/>
<path d="M183.27 96.81L186.27 102.81L180.27 102.81Z" fill="#0000e6"/>
<path d="M195.78 93.34L198.78 99.34L192.78 99.34Z" fill="#0000e6"/>
<path d="M208.29 89.99L211.29 95.99L205.29 95.99Z" fill="#0000e6"/>
<path d="M220.81 87.81L223.81 93.81L217.81 93.81Z" fill="#0000e6"/>
<path d="M233.33 86.01L236.33 92.01L230.33 92.01Z" fill="#0000e6"/>
<path d="M245.84 84.21L248.84 90.21L242.84 90.21Z" fill="#0000e6"/>
<path d="M258.36 82.81L261.36 88.81L255.36 88.81Z" fill="#0000e6"/>
<path d="M270.87 83.87L273.87 89.87L267.87 89.87Z" fill="#0000e6"/>
<path d="M283.38 83.99L286.38 89.99L280.38 89.99Z" fill="#0000e6"/>
<path d="M295.9 84.19L298.9 90.19L292.9 90.19Z" fill="#0000e6"/>
<path d="M308.42 85.24L311.42 91.24L305.42 91.24Z" fill="#0000e6"/>
<path d="M320.93 86.16L323.93 92.16L317.93 92.16Z" fill="#0000e6"/>
<path d="M333.45 86.16L336.45 92.16L330.45 92.16Z" fill="#0000e6"/>
<path d="M345.96 86.61L348.96 92.61L342.96 92.61Z" fill="#0000e6"/>
<path d="M358.48 88.46L361.48 94.46L355.48 94.46Z" fill="#0000e6"/>
<path d="M58.11 186.25 L70.63 151.2 L83.14 137.09 L95.66 124.86 L108.18 116.71 L120.69 113.29 L133.21 111.58 L145.72 110.11 L158.24 109.21 L170.75 105.69 L183.27 103.93 L195.78 100.25 L208.29 97.46 L220.81 93.64 L233.33 91.4 L245.84 89.17 L258.36 88.18 L270.87 87.8 L283.38 88.59 L295.9 87.37 L308.42 88.85 L320.93 90.03 L333.45 89.21 L345.96 89.14 L358.48 90.23" fill="none" stroke="#1899c2" stroke-width="1.15" stroke-dasharray="3,1.5,1,1.5"/>
<path d="M58.11 178.25V194.25 M56.61 178.25h3 M56.61 194.25h3" fill="none" stroke="#1899c2" stroke-width="1" stroke-dasharray="3,1.5,1,1.5"/>
<path d="M58.11 189.75L61.11 183.75L55.11 183.75Z" fill="#1899c2"/>
<path d="M70.63 154.7L73.63 148.7L67.63 148.7Z" fill="#1899c2"/>
<path d="M83.14 140.59L86.14 134.59L80.14 134.59Z" fill="#1899c2"/>
<path d="M95.66 128.36L98.66 122.36L92.66 122.36Z" fill="#1899c2"/>
<path d="M108.18 120.21L111.18 114.21L105.18 114.21Z" fill="#1899c2"/>
<path d="M120.69 116.79L123.69 110.79L117.69 110.79Z" fill="#1899c2"/>
<path d="M133.21 115.08L136.21 109.08L130.21 109.08Z" fill="#1899c2"/>
<path d="M145.72 113.61L148.72 107.61L142.72 107.61Z" fill="#1899c2"/>
<path d="M158.24 112.71L161.24 106.71L155.24 106.71Z" fill="#1899c2"/>
<path d="M170.75 109.19L173.75 103.19L167.75 103.19Z" fill="#1899c2"/>
<path d="M183.27 107.43L186.27 101.43L180.27 101.43Z" fill="#1899c2"/>
<path d="M195.78 103.75L198.78 97.75L192.78 97.75Z" fill="#1899c2"/>
<path d="M208.29 100.96L211.29 94.96L205.29 94.96Z" fill="#1899c2"/>
<path d="M220.81 97.14L223.81 91.14L217.81 91.14Z" fill="#1899c2"/>
<path d="M233.33 94.9L236.33 88.9L230.33 88.9Z" fill="#1899c2"/>
<path d="M245.84 92.67L248.84 86.67L242.84 86.67Z" fill="#1899c2"/>
<path d="M258.36 91.68L261.36 85.68L255.36 85.68Z" fill="#1899c2"/>
<path d="M270.87 91.3L273.87 85.3L267.87 85.3Z" fill="#1899c2"/>
<path d="M283.38 92.09L286.38 86.09L280.38 86.09Z" fill="#1899c2"/>
<path d="M295.9 90.87L298.9 84.87L292.9 84.87Z" fill="#1899c2"/>
<path d="M308.42 92.35L311.42 86.35L305.42 86.35Z" fill="#1899c2"/>
<path d="M320.93 93.53L323.93 87.53L317.93 87.53Z" fill="#1899c2"/>
<path d="M333.45 92.71L336.45 86.71L330.45 86.71Z" fill="#1899c2"/>
<path d="M345.96 92.64L348.96 86.64L342.96 86.64Z" fill="#1899c2"/>
<path d="M358.48 93.73L361.48 87.73L355.48 87.73Z" fill="#1899c2"/>
<path d="M58.11 159.4 L70.63 140.3 L83.14 136.55 L95.66 133.92 L108.18 128.65 L120.69 128.79 L133.21 129.2 L145.72 126.6 L158.24 125.6 L170.75 122.1 L183.27 121.4 L195.78 116.5 L208.29 113.7 L220.81 111.5 L233.33 108.8 L245.84 106.8 L258.36 103.32 L270.87 101.3 L283.38 100.01 L295.9 98.58 L308.42 98.21 L320.93 97.62 L333.45 96.45 L345.96 96.15 L358.48 96.05" fill="none" stroke="#ff0000" stroke-width="1.15" stroke-dasharray="0.9,0.7"/>
<path d="M58.11 156L60.51 159.4L58.11 162.8L55.71 159.4Z" fill="#ff0000"/>
<path d="M70.63 136.9L73.03 140.3L70.63 143.7L68.23 140.3Z" fill="#ff0000"/>
<path d="M83.14 133.15L85.55 136.55L83.14 139.95L80.74 136.55Z" fill="#ff0000"/>
<path d="M95.66 130.52L98.06 133.92L95.66 137.32L93.26 133.92Z" fill="#ff0000"/>
<path d="M108.18 125.25L110.58 128.65L108.18 132.05L105.78 128.65Z" fill="#ff0000"/>
<path d="M120.69 125.39L123.09 128.79L120.69 132.19L118.29 128.79Z" fill="#ff0000"/>
<path d="M133.21 125.8L135.61 129.2L133.21 132.6L130.81 129.2Z" fill="#ff0000"/>
<path d="M145.72 123.2L148.12 126.6L145.72 130L143.32 126.6Z" fill="#ff0000"/>
<path d="M158.24 122.2L160.64 125.6L158.24 129L155.84 125.6Z" fill="#ff0000"/>
<path d="M170.75 118.7L173.15 122.1L170.75 125.5L168.35 122.1Z" fill="#ff0000"/>
<path d="M183.27 118L185.67 121.4L183.27 124.8L180.87 121.4Z" fill="#ff0000"/>
<path d="M195.78 113.1L198.18 116.5L195.78 119.9L193.38 116.5Z" fill="#ff0000"/>
<path d="M208.29 110.3L210.69 113.7L208.29 117.1L205.89 113.7Z" fill="#ff0000"/>
<path d="M220.81 108.1L223.21 111.5L220.81 114.9L218.41 111.5Z" fill="#ff0000"/>
<path d="M233.33 105.4L235.73 108.8L233.33 112.2L230.93 108.8Z" fill="#ff0000"/>
<path d="M245.84 103.4L248.24 106.8L245.84 110.2L243.44 106.8Z" fill="#ff0000"/>
<path d="M258.36 99.92L260.75 103.32L258.36 106.72L255.96 103.32Z" fill="#ff0000"/>
<path d="M270.87 97.9L273.27 101.3L270.87 104.7L268.47 101.3Z" fill="#ff0000"/>
<path d="M283.38 96.61L285.78 100.01L283.38 103.41L280.99 100.01Z" fill="#ff0000"/>
<path d="M295.9 95.18L298.3 98.58L295.9 101.98L293.5 98.58Z" fill="#ff0000"/>
<path d="M308.42 94.81L310.81 98.21L308.42 101.61L306.02 98.21Z" fill="#ff0000"/>
<path d="M320.93 94.22L323.33 97.62L320.93 101.02L318.53 97.62Z" fill="#ff0000"/>
<path d="M333.45 93.05L335.85 96.45L333.45 99.85L331.05 96.45Z" fill="#ff0000"/>
<path d="M345.96 92.75L348.36 96.15L345.96 99.55L343.56 96.15Z" fill="#ff0000"/>
<path d="M358.48 92.65L360.88 96.05L358.48 99.45L356.08 96.05Z" fill="#ff0000"/>
</g>
<rect x="45.6" y="17.3" width="325.4" height="300" fill="none" stroke="#000" stroke-width="1.05"/>
<rect x="45.6" y="317.3" width="325.4" height="160.5" fill="none" stroke="#000" stroke-width="1.05"/>
<path d="M45.6 310.32h5.6 M371 310.32h-5.6 M45.6 304.86h5.6 M371 304.86h-5.6 M45.6 300.63h5.6 M371 300.63h-5.6 M45.6 297.17h5.6 M371 297.17h-5.6 M45.6 294.25h5.6 M371 294.25h-5.6 M45.6 291.71h5.6 M371 291.71h-5.6 M45.6 289.48h5.6 M371 289.48h-5.6 M45.6 287.48h11 M371 287.48h-11 M45.6 274.33h5.6 M371 274.33h-5.6 M45.6 266.64h5.6 M371 266.64h-5.6 M45.6 261.18h5.6 M371 261.18h-5.6 M45.6 256.95h5.6 M371 256.95h-5.6 M45.6 253.49h5.6 M371 253.49h-5.6 M45.6 250.57h5.6 M371 250.57h-5.6 M45.6 248.03h5.6 M371 248.03h-5.6 M45.6 245.8h5.6 M371 245.8h-5.6 M45.6 243.8h11 M371 243.8h-11 M45.6 230.65h5.6 M371 230.65h-5.6 M45.6 222.96h5.6 M371 222.96h-5.6 M45.6 217.5h5.6 M371 217.5h-5.6 M45.6 213.27h5.6 M371 213.27h-5.6 M45.6 209.81h5.6 M371 209.81h-5.6 M45.6 206.89h5.6 M371 206.89h-5.6 M45.6 204.35h5.6 M371 204.35h-5.6 M45.6 202.12h5.6 M371 202.12h-5.6 M45.6 200.12h11 M371 200.12h-11 M45.6 186.97h5.6 M371 186.97h-5.6 M45.6 179.28h5.6 M371 179.28h-5.6 M45.6 173.82h5.6 M371 173.82h-5.6 M45.6 169.59h5.6 M371 169.59h-5.6 M45.6 166.13h5.6 M371 166.13h-5.6 M45.6 163.21h5.6 M371 163.21h-5.6 M45.6 160.67h5.6 M371 160.67h-5.6 M45.6 158.44h5.6 M371 158.44h-5.6 M45.6 156.44h11 M371 156.44h-11 M45.6 143.29h5.6 M371 143.29h-5.6 M45.6 135.6h5.6 M371 135.6h-5.6 M45.6 130.14h5.6 M371 130.14h-5.6 M45.6 125.91h5.6 M371 125.91h-5.6 M45.6 122.45h5.6 M371 122.45h-5.6 M45.6 119.53h5.6 M371 119.53h-5.6 M45.6 116.99h5.6 M371 116.99h-5.6 M45.6 114.76h5.6 M371 114.76h-5.6 M45.6 112.76h11 M371 112.76h-11 M45.6 99.61h5.6 M371 99.61h-5.6 M45.6 91.92h5.6 M371 91.92h-5.6 M45.6 86.46h5.6 M371 86.46h-5.6 M45.6 82.23h5.6 M371 82.23h-5.6 M45.6 78.77h5.6 M371 78.77h-5.6 M45.6 75.85h5.6 M371 75.85h-5.6 M45.6 73.31h5.6 M371 73.31h-5.6 M45.6 71.08h5.6 M371 71.08h-5.6 M45.6 69.08h11 M371 69.08h-11 M45.6 55.93h5.6 M371 55.93h-5.6 M45.6 48.24h5.6 M371 48.24h-5.6 M45.6 42.78h5.6 M371 42.78h-5.6 M45.6 38.55h5.6 M371 38.55h-5.6 M45.6 35.09h5.6 M371 35.09h-5.6 M45.6 32.17h5.6 M371 32.17h-5.6 M45.6 29.63h5.6 M371 29.63h-5.6 M45.6 27.4h5.6 M371 27.4h-5.6 M45.6 25.4h11 M371 25.4h-11 M58.11 17.3v2.5 M58.11 317.3v-2 M58.11 317.3v1.8 M58.11 477.8v-2 M70.63 17.3v2.5 M70.63 317.3v-2 M70.63 317.3v1.8 M70.63 477.8v-2 M83.14 17.3v2.5 M83.14 317.3v-2 M83.14 317.3v1.8 M83.14 477.8v-2 M95.66 17.3v2.5 M95.66 317.3v-2 M95.66 317.3v1.8 M95.66 477.8v-2 M108.18 17.3v2.5 M108.18 317.3v-2 M108.18 317.3v1.8 M108.18 477.8v-2 M120.69 17.3v8.5 M120.69 317.3v-7.6 M120.69 317.3v5 M120.69 477.8v-5 M133.21 17.3v2.5 M133.21 317.3v-2 M133.21 317.3v1.8 M133.21 477.8v-2 M145.72 17.3v2.5 M145.72 317.3v-2 M145.72 317.3v1.8 M145.72 477.8v-2 M158.24 17.3v2.5 M158.24 317.3v-2 M158.24 317.3v1.8 M158.24 477.8v-2 M170.75 17.3v2.5 M170.75 317.3v-2 M170.75 317.3v1.8 M170.75 477.8v-2 M183.27 17.3v2.5 M183.27 317.3v-2 M183.27 317.3v1.8 M183.27 477.8v-2 M195.78 17.3v2.5 M195.78 317.3v-2 M195.78 317.3v1.8 M195.78 477.8v-2 M208.29 17.3v2.5 M208.29 317.3v-2 M208.29 317.3v1.8 M208.29 477.8v-2 M220.81 17.3v2.5 M220.81 317.3v-2 M220.81 317.3v1.8 M220.81 477.8v-2 M233.33 17.3v2.5 M233.33 317.3v-2 M233.33 317.3v1.8 M233.33 477.8v-2 M245.84 17.3v8.5 M245.84 317.3v-7.6 M245.84 317.3v5 M245.84 477.8v-5 M258.36 17.3v2.5 M258.36 317.3v-2 M258.36 317.3v1.8 M258.36 477.8v-2 M270.87 17.3v2.5 M270.87 317.3v-2 M270.87 317.3v1.8 M270.87 477.8v-2 M283.38 17.3v2.5 M283.38 317.3v-2 M283.38 317.3v1.8 M283.38 477.8v-2 M295.9 17.3v2.5 M295.9 317.3v-2 M295.9 317.3v1.8 M295.9 477.8v-2 M308.42 17.3v2.5 M308.42 317.3v-2 M308.42 317.3v1.8 M308.42 477.8v-2 M320.93 17.3v2.5 M320.93 317.3v-2 M320.93 317.3v1.8 M320.93 477.8v-2 M333.45 17.3v2.5 M333.45 317.3v-2 M333.45 317.3v1.8 M333.45 477.8v-2 M345.96 17.3v2.5 M345.96 317.3v-2 M345.96 317.3v1.8 M345.96 477.8v-2 M358.48 17.3v2.5 M358.48 317.3v-2 M358.48 317.3v1.8 M358.48 477.8v-2 M45.6 458.64h7 M371 458.64h-7 M45.6 442.6h5 M371 442.6h-5 M45.6 429.03h5 M371 429.03h-5 M45.6 417.28h5 M371 417.28h-5 M45.6 406.92h5 M371 406.92h-5 M45.6 397.65h7 M371 397.65h-7 M45.6 389.26h5 M371 389.26h-5 M45.6 381.61h5 M371 381.61h-5 M45.6 374.57h5 M371 374.57h-5 M45.6 368.04h5 M371 368.04h-5 M45.6 361.97h5 M371 361.97h-5 M45.6 356.3h5 M371 356.3h-5 M45.6 350.96h5 M371 350.96h-5 M45.6 345.93h5 M371 345.93h-5 M45.6 341.17h5 M371 341.17h-5 M45.6 336.66h7 M371 336.66h-7 M45.6 332.37h5 M371 332.37h-5 M45.6 328.28h5 M371 328.28h-5 M45.6 324.36h5 M371 324.36h-5 M45.6 320.62h5 M371 320.62h-5" stroke="#000" stroke-width="1" fill="none"/>
<rect x="73.9" y="208.2" width="5.4" height="5.4" fill="#000"/>
<path d="M64.2 223.97 L88.4 223.97" fill="none" stroke="#b5600f" stroke-width="1" stroke-dasharray="2.4,1.6"/>
<circle cx="76.6" cy="223.97" r="2.6" fill="none" stroke="#b5600f" stroke-width="1.1"/>
<path d="M64.2 237.04 L88.4 237.04" fill="none" stroke="#3e9a18" stroke-width="1" stroke-dasharray="2.4,1.6"/>
<rect x="73.9" y="234.34" width="5.4" height="5.4" fill="none" stroke="#3e9a18" stroke-width="1.1"/>
<path d="M64.2 250.11 L88.4 250.11" fill="none" stroke="#0000e6" stroke-width="1"/>
<path d="M76.6 246.61L79.6 252.61L73.6 252.61Z" fill="#0000e6"/>
<path d="M64.2 263.18 L88.4 263.18" fill="none" stroke="#1899c2" stroke-width="1" stroke-dasharray="3,1.5,1,1.5"/>
<path d="M76.6 266.68L79.6 260.68L73.6 260.68Z" fill="#1899c2"/>
<path d="M64.2 276.25 L88.4 276.25" fill="none" stroke="#ff0000" stroke-width="1" stroke-dasharray="0.9,0.7"/>
<path d="M76.6 272.85L79 276.25L76.6 279.65L74.2 276.25Z" fill="#ff0000"/>
<g font-family="Liberation Sans, sans-serif"><text x="51.8" y="13.7" font-size="12" text-anchor="start" fill="#000" transform="translate(51.8 13.7) skewX(1) scale(1 1.04) translate(-51.8 -13.7)">13000 GeV pp</text><text x="365.5" y="13.7" font-size="12" text-anchor="end" fill="#000" transform="translate(365.5 13.7) skewX(1) scale(1 1.04) translate(-365.5 -13.7)">Z+Jet</text><text x="93" y="41.6" font-size="12" text-anchor="start" fill="#000" transform="translate(93 41.6) skewX(1) scale(1 1.04) translate(-93 -41.6)">Away region, 80 &lt; p<tspan dx="-1.9" dy="-4.2" font-size="8">Z</tspan><tspan dx="-4.9" dy="11.4" font-size="8">T</tspan><tspan dx="0.5" dy="-7.2"> &lt; 120 [GeV], inclusive</tspan></text><text x="94.2" y="213.7" font-size="9.4" text-anchor="start" fill="#000" transform="translate(94.2 213.7) skewX(1) scale(1 1.04) translate(-94.2 -213.7)">ATLAS</text><text x="94.2" y="226.74" font-size="9.4" text-anchor="start" fill="#000" transform="translate(94.2 226.74) skewX(1) scale(1 1.04) translate(-94.2 -226.74)">Herwig++ 2.7.1 default</text><text x="94.2" y="239.78" font-size="9.4" text-anchor="start" fill="#000" transform="translate(94.2 239.78) skewX(1) scale(1 1.04) translate(-94.2 -239.78)">Herwig 7.2.1 default</text><text x="94.2" y="252.82" font-size="9.4" text-anchor="start" fill="#000" transform="translate(94.2 252.82) skewX(1) scale(1 1.04) translate(-94.2 -252.82)">Pythia 8.315 default</text><text x="94.2" y="265.86" font-size="9.4" text-anchor="start" fill="#000" transform="translate(94.2 265.86) skewX(1) scale(1 1.04) translate(-94.2 -265.86)">Pythia 8.315 vincia-default</text><text x="94.2" y="278.9" font-size="9.4" text-anchor="start" fill="#000" transform="translate(94.2 278.9) skewX(1) scale(1 1.04) translate(-94.2 -278.9)">Sherpa 2.2.9 default</text><text x="162.5" y="301.1" font-size="8" text-anchor="start" fill="#999" transform="translate(162.5 301.1) skewX(1) scale(1 1.04) translate(-162.5 -301.1)">(ATLAS_2019_I1736531)</text><text x="40.8" y="73.1" font-size="11.2" text-anchor="end" fill="#000" transform="translate(40.8 73.1) skewX(1) scale(1 1.04) translate(-40.8 -73.1)">1</text><text x="40.8" y="29.9" font-size="11.2" text-anchor="end" fill="#000" transform="translate(40.8 29.9) skewX(1) scale(1 1.04) translate(-40.8 -29.9)">10</text><text x="39.8" y="118.06" font-size="11.2" text-anchor="end" fill="#000" transform="translate(39.8 118.06) skewX(1) scale(1 1.04) translate(-39.8 -118.06)">10<tspan dy="-4.5" font-size="7.5">&#8722;1</tspan></text><text x="39.8" y="161.74" font-size="11.2" text-anchor="end" fill="#000" transform="translate(39.8 161.74) skewX(1) scale(1 1.04) translate(-39.8 -161.74)">10<tspan dy="-4.5" font-size="7.5">&#8722;2</tspan></text><text x="39.8" y="205.42" font-size="11.2" text-anchor="end" fill="#000" transform="translate(39.8 205.42) skewX(1) scale(1 1.04) translate(-39.8 -205.42)">10<tspan dy="-4.5" font-size="7.5">&#8722;3</tspan></text><text x="39.8" y="249.1" font-size="11.2" text-anchor="end" fill="#000" transform="translate(39.8 249.1) skewX(1) scale(1 1.04) translate(-39.8 -249.1)">10<tspan dy="-4.5" font-size="7.5">&#8722;4</tspan></text><text x="39.8" y="292.78" font-size="11.2" text-anchor="end" fill="#000" transform="translate(39.8 292.78) skewX(1) scale(1 1.04) translate(-39.8 -292.78)">10<tspan dy="-4.5" font-size="7.5">&#8722;5</tspan></text><text x="38.5" y="340.76" font-size="11.5" text-anchor="end" fill="#000" transform="translate(38.5 340.76) skewX(1) scale(1 1.04) translate(-38.5 -340.76)">2</text><text x="374" y="340.76" font-size="11.5" text-anchor="start" fill="#000" transform="translate(374 340.76) skewX(1) scale(1 1.04) translate(-374 -340.76)">2</text><text x="38.5" y="401.75" font-size="11.5" text-anchor="end" fill="#000" transform="translate(38.5 401.75) skewX(1) scale(1 1.04) translate(-38.5 -401.75)">1</text><text x="374" y="401.75" font-size="11.5" text-anchor="start" fill="#000" transform="translate(374 401.75) skewX(1) scale(1 1.04) translate(-374 -401.75)">1</text><text x="38.5" y="462.74" font-size="11.5" text-anchor="end" fill="#000" transform="translate(38.5 462.74) skewX(1) scale(1 1.04) translate(-38.5 -462.74)">0.5</text><text x="374" y="462.74" font-size="11.5" text-anchor="start" fill="#000" transform="translate(374 462.74) skewX(1) scale(1 1.04) translate(-374 -462.74)">0.5</text><text x="120.69" y="488.7" font-size="11.5" text-anchor="middle" fill="#000" transform="translate(120.69 488.7) skewX(1) scale(1 1.04) translate(-120.69 -488.7)">1</text><text x="245.84" y="488.7" font-size="11.5" text-anchor="middle" fill="#000" transform="translate(245.84 488.7) skewX(1) scale(1 1.04) translate(-245.84 -488.7)">2</text><text x="370.99" y="488.7" font-size="11.5" text-anchor="middle" fill="#000" transform="translate(370.99 488.7) skewX(1) scale(1 1.04) translate(-370.99 -488.7)">3</text><text x="369.5" y="501" font-size="12" text-anchor="end" fill="#000" transform="translate(369.5 501) skewX(1) scale(1 1.04) translate(-369.5 -501)">Mean p<tspan dx="0.3" dy="6.2" font-size="8.5">T</tspan><tspan dx="0.3" dy="-6.2">/d&#951; d&#981;</tspan></text><text x="14.8" y="17.6" font-size="11.95" text-anchor="end" fill="#000" transform="translate(14.8 17.6) rotate(-90) skewX(1) scale(1 1.04) translate(-14.8 -17.6)">1/N<tspan dy="3.4" font-size="7.6">ev</tspan><tspan dy="-3.4"> dN</tspan><tspan dy="3.4" font-size="7.6">ev</tspan><tspan dy="-3.4">/d mean p</tspan><tspan dx="0.0" dy="6.5" font-size="8.2">T</tspan><tspan dx="-1.4" dy="-6.5" letter-spacing="-0.4"> [GeV]</tspan><tspan dx="-1.2" dy="-5" font-size="7.6">&#8722;1</tspan></text><text x="18.2" y="396.7" font-size="9" text-anchor="middle" fill="#000" transform="translate(18.2 396.7) rotate(-90) skewX(1) scale(1 1.04) translate(-18.2 -396.7)">Ratio to ATLAS</text><text x="381.3" y="17.6" font-size="9.4" text-anchor="end" fill="#777" transform="translate(381.3 17.6) rotate(-90) skewX(1) scale(1 0.95) translate(-381.3 -17.6)">Rivet 4.1.0, &#8805; 3.6M events</text><text x="381.3" y="313.8" font-size="9.45" text-anchor="start" fill="#777" transform="translate(381.3 313.8) rotate(-90) skewX(1) scale(1 0.95) translate(-381.3 -313.8)">mcplots.cern.ch [arXiv:2401.10621]</text></g>
</svg>


</body></html>
